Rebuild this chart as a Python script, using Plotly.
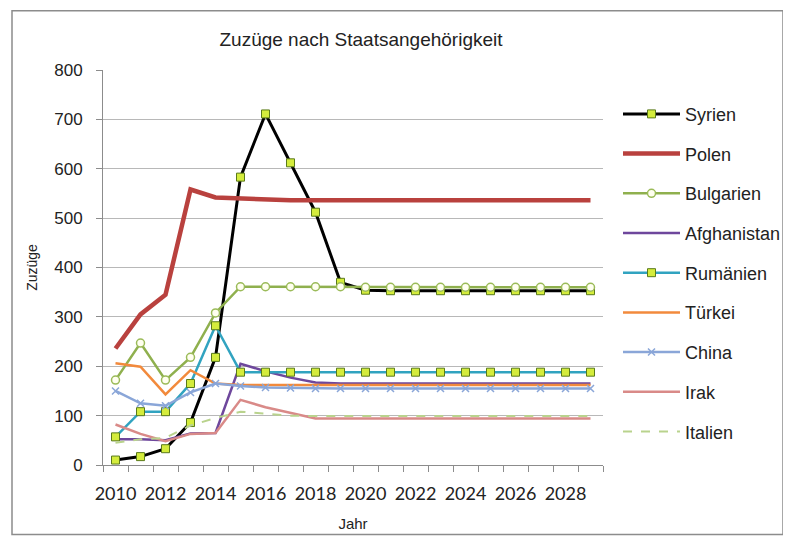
import plotly.graph_objects as go

jahre = list(range(2010, 2030))
tick_jahre = list(range(2010, 2030, 2))
tick_labels = [str(j) for j in tick_jahre]

syrien = [10, 17, 33, 86, 218, 583, 711, 612, 512, 370, 354, 353, 353, 353, 353, 353, 353, 353, 353, 353]
polen = [236, 305, 345, 558, 542, 540, 537, 536, 536, 536, 536, 536, 536, 536, 536, 536, 536, 536, 536, 536]
bulgarien = [172, 247, 172, 218, 308, 361, 361, 361, 361, 361, 360, 360, 360, 360, 360, 360, 360, 360, 360, 360]
afghanistan = [52, 52, 50, 64, 65, 205, 190, 177, 167, 165, 165, 165, 165, 165, 165, 165, 165, 165, 165, 165]
rumaenien = [57, 108, 108, 165, 282, 188, 188, 188, 188, 188, 188, 188, 188, 188, 188, 188, 188, 188, 188, 188]
tuerkei = [206, 199, 143, 192, 165, 162, 162, 162, 162, 162, 162, 162, 162, 162, 162, 162, 162, 162, 162, 162]
china = [150, 125, 120, 147, 165, 160, 157, 156, 155, 155, 155, 155, 155, 155, 155, 155, 155, 155, 155, 155]
irak = [82, 63, 48, 63, 65, 132, 117, 105, 94, 94, 94, 94, 94, 94, 94, 94, 94, 94, 94, 94]
italien = [45, 52, 55, 80, 95, 108, 104, 100, 99, 99, 99, 99, 99, 99, 99, 99, 99, 99, 99, 99]

gelb = dict(symbol="square", size=8, color="#d4ec3c", line=dict(color="#5a7a1a", width=1))

serien = [
    ("Syrien", syrien, dict(color="#000000", width=3), gelb),
    ("Polen", polen, dict(color="#b9413e", width=4.5), None),
    ("Bulgarien", bulgarien, dict(color="#8fb04e", width=2.5),
     dict(symbol="circle", size=8, color="#fffff0", line=dict(color="#9bbb59", width=1.5))),
    ("Afghanistan", afghanistan, dict(color="#6e479c", width=2.5), None),
    ("Rumänien", rumaenien, dict(color="#31a3c0", width=2.5), gelb),
    ("Türkei", tuerkei, dict(color="#f28a3c", width=2.5), None),
    ("China", china, dict(color="#8aa6d8", width=2.5),
     dict(symbol="x-thin", size=7, color="#8aa6d8", line=dict(color="#8aa6d8", width=1.5))),
    ("Irak", irak, dict(color="#d98a88", width=2.5), None),
    ("Italien", italien, dict(color="#b9d38d", width=2, dash="dash"), None),
]

fig = go.Figure()
for name, werte, linie, marker in serien:
    fig.add_trace(go.Scatter(
        x=jahre, y=werte, name=name, legendgroup=name,
        mode="lines+markers" if marker else "lines",
        line=linie, marker=marker,
    ))

# Seite hat 8px Rand, darum etwas kleiner
fig.update_layout(
    width=783, height=530,
    margin=dict(l=95, r=188, t=62, b=73, autoexpand=False),
    paper_bgcolor="white", plot_bgcolor="white",
    title=dict(text="Zuzüge nach Staatsangehörigkeit", x=0.516, xref="paper",
               y=0.94, yref="container", yanchor="middle",
               font=dict(family="Liberation Sans", size=19, color="#222222")),
    legend=dict(x=1.03, xanchor="left", y=0.935, yanchor="top",
                font=dict(family="Liberation Sans", size=18, color="#222222"),
                itemwidth=57, tracegroupgap=13.3, bgcolor="rgba(0,0,0,0)"),
    showlegend=True,
)

fig.update_xaxes(
    range=[2009.5, 2029.5], tickvals=tick_jahre, ticktext=tick_labels,
    ticks="", showgrid=False, showline=True, linecolor="#8c8c8c", linewidth=1,
    ticklabelstandoff=12,
    tickfont=dict(family="Liberation Sans Narrow, Lato", size=18, color="#222222"),
    minor=dict(tickvals=[j - 0.5 for j in jahre] + [2029.5], ticks="outside",
               ticklen=6, tickcolor="#8c8c8c", showgrid=False),
    title=dict(text="Jahr", standoff=15,
               font=dict(family="Liberation Sans", size=15, color="#222222")),
)

fig.update_yaxes(
    range=[0, 800], dtick=100, showgrid=True, gridcolor="#b8b8b8", gridwidth=1,
    showline=True, linecolor="#8c8c8c", ticks="outside", ticklen=6, tickcolor="#8c8c8c",
    zeroline=False, ticklabelstandoff=10,
    tickfont=dict(family="Liberation Sans", size=17, color="#222222"),
    title=dict(text="Zuzüge", standoff=13,
               font=dict(family="Liberation Sans", size=14, color="#222222")),
)

fig.add_shape(type="rect", xref="paper", yref="paper",
              x0=-0.182, x1=1.36, y0=-0.176, y1=1.15,
              line=dict(color="#8c8c8c", width=1.5), layer="below")

fig.write_html("out.html")
